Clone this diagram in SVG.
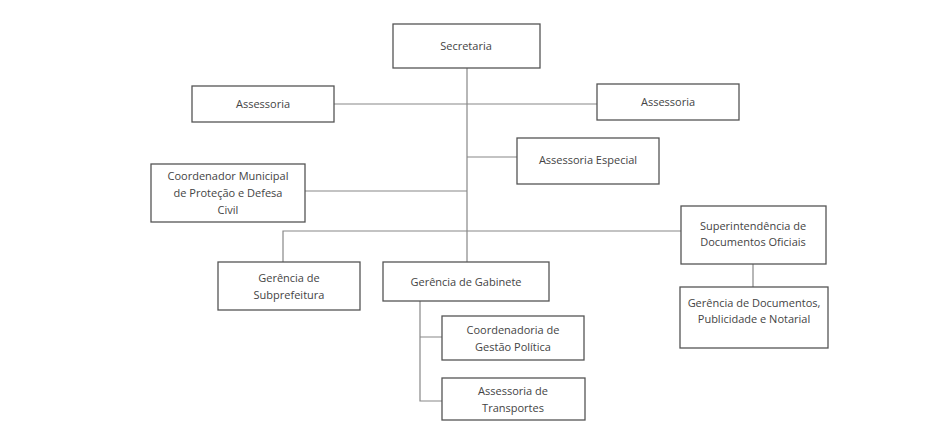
<svg xmlns="http://www.w3.org/2000/svg" width="939" height="424" viewBox="0 0 939 424">
<style>
.b{fill:#fff;stroke:#555;stroke-width:1.3}
.l{fill:none;stroke:#888;stroke-width:1.2}
text{font-family:"Open Sans","Liberation Sans",sans-serif;font-size:11px;fill:#444;text-anchor:middle}
</style>
<rect width="939" height="424" fill="#fff"/>
<g id="connectors" class="l">
<path d="M467 68V262M334 104H597M467 157H517M305 191H467M283 262V231H681M753 264V287M420 301V401H442M420 337H442"/>
</g>
<g id="secretaria"><rect class="b" x="393" y="24" width="147" height="44"/><text x="466" y="50">Secretaria</text></g>
<g id="assessoria1"><rect class="b" x="192" y="86" width="142" height="36"/><text x="263" y="108">Assessoria</text></g>
<g id="assessoria2"><rect class="b" x="597" y="84" width="142" height="36"/><text x="668" y="106">Assessoria</text></g>
<g id="especial"><rect class="b" x="517" y="138" width="142" height="46"/><text x="588" y="164">Assessoria Especial</text></g>
<g id="coordenador"><rect class="b" x="151" y="164" width="154" height="58"/><text x="228" y="180">Coordenador Municipal</text><text x="228" y="197">de Proteção e Defesa</text><text x="228" y="214">Civil</text></g>
<g id="superintendencia"><rect class="b" x="681" y="206" width="145" height="58"/><text x="753" y="230">Superintendência de</text><text x="753" y="246">Documentos Oficiais</text></g>
<g id="subprefeitura"><rect class="b" x="218" y="262" width="142" height="48"/><text x="289" y="282">Gerência de</text><text x="289" y="299">Subprefeitura</text></g>
<g id="gabinete"><rect class="b" x="383" y="262" width="166" height="39"/><text x="466" y="286">Gerência de Gabinete</text></g>
<g id="documentos"><rect class="b" x="680" y="287" width="148" height="61"/><text x="754" y="307">Gerência de Documentos,</text><text x="754" y="323">Publicidade e Notarial</text></g>
<g id="coordenadoria"><rect class="b" x="442" y="316" width="142" height="44"/><text x="513" y="334">Coordenadoria de</text><text x="513" y="351">Gestão Política</text></g>
<g id="transportes"><rect class="b" x="442" y="378" width="143" height="42"/><text x="513" y="395">Assessoria de</text><text x="513" y="412">Transportes</text></g>
</svg>
